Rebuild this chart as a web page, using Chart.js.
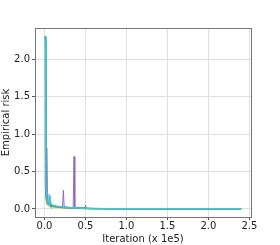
<!DOCTYPE html>
<html>
<head>
<meta charset="utf-8">
<script src="https://cdn.jsdelivr.net/npm/chart.js@4"></script>
<style>
  html, body { margin: 0; padding: 0; background: #fff; }
  canvas { display: block; }
</style>
</head>
<body>
<canvas id="chart" width="280" height="245"></canvas>
<script>
// iteration (x 1e5)
const iters = [0, 0.012, 0.0125, 0.013, 0.017, 0.02, 0.025, 0.03, 0.035, 0.04, 0.05, 0.06, 0.065, 0.07, 0.075, 0.08,
  0.1, 0.12, 0.15, 0.2, 0.22, 0.23, 0.24, 0.3, 0.35, 0.36, 0.37, 0.45, 0.49, 0.5, 0.51, 0.6, 0.8, 1.0, 1.5, 2.0, 2.4];

const riskGray = [2.30, 2.30, 1.9, 0.6, 0.25, 0.15, 0.11, 0.09, 0.08, 0.07, 0.06, 0.05, 0.05, 0.06, 0.05, 0.045,
  0.04, 0.05, 0.03, 0.025, 0.02, 0.02, 0.02, 0.018, 0.015, 0.015, 0.015, 0.012, 0.01, 0.05, 0.01, 0.006, 0.003, 0.002, 0.001, 0.001, 0.001];
const riskOlive = [2.30, 2.30, 1.9, 0.55, 0.2, 0.12, 0.09, 0.07, 0.06, 0.05, 0.04, 0.035, 0.03, 0.03, 0.03, 0.028,
  0.025, 0.02, 0.018, 0.015, 0.012, 0.012, 0.012, 0.01, 0.008, 0.008, 0.008, 0.005, 0.004, 0.004, 0.004, 0.002, 0.001, 0.001, 0.001, 0.001, 0.001];
const riskPink = [2.30, 2.30, 1.9, 0.6, 0.25, 0.16, 0.12, 0.1, 0.08, 0.07, 0.06, 0.05, 0.05, 0.045, 0.04, 0.04,
  0.035, 0.03, 0.025, 0.02, 0.018, 0.018, 0.018, 0.015, 0.012, 0.012, 0.012, 0.01, 0.008, 0.008, 0.008, 0.005, 0.003, 0.002, 0.001, 0.001, 0.001];
const riskPurple = [2.30, 2.30, 1.9, 0.65, 0.3, 0.2, 0.5, 0.82, 0.2, 0.12, 0.09, 0.07, 0.07, 0.06, 0.06, 0.05,
  0.045, 0.04, 0.035, 0.03, 0.03, 0.25, 0.03, 0.02, 0.02, 0.70, 0.02, 0.015, 0.01, 0.01, 0.01, 0.006, 0.004, 0.003, 0.002, 0.001, 0.001];
const riskTeal = [2.30, 2.30, 1.85, 0.6, 0.3, 0.2, 0.14, 0.11, 0.09, 0.08, 0.07, 0.1, 0.16, 0.08, 0.06, 0.05,
  0.04, 0.035, 0.03, 0.025, 0.02, 0.02, 0.02, 0.015, 0.012, 0.012, 0.012, 0.008, 0.006, 0.006, 0.005, 0.003, 0.002, 0.001, 0.001, 0.001, 0.001];
const riskCyan = [2.30, 2.30, 1.95, 0.75, 0.35, 0.22, 0.15, 0.12, 0.10, 0.09, 0.08, 0.12, 0.19, 0.10, 0.07, 0.06,
  0.05, 0.04, 0.035, 0.03, 0.025, 0.025, 0.02, 0.02, 0.015, 0.015, 0.015, 0.01, 0.008, 0.01, 0.008, 0.005, 0.003, 0.002, 0.001, 0.001, 0.001];

const xTicks = [0, 0.5, 1.0, 1.5, 2.0, 2.5];
const yTicks = [0, 0.5, 1.0, 1.5, 2.0];

// Chart.js paints dataset 0 on top, so the lines that show most come first
const series = [
  { data: riskCyan, color: '#3cc8d4', width: 1.5 },
  { data: riskTeal, color: '#2a9d8f', width: 1.5 },
  { data: riskPurple, color: '#9467bd', width: 1 },
  { data: riskPink, color: '#e377c2', width: 1 },
  { data: riskOlive, color: '#bcbd22', width: 1 },
  { data: riskGray, color: '#7f7f7f', width: 1 }
];

// frame around the plot area, like matplotlib spines
const frame = {
  id: 'frame',
  afterDraw(chart) {
    const { ctx, chartArea: a } = chart;
    ctx.save();
    ctx.strokeStyle = '#777';
    ctx.lineWidth = 1;
    ctx.strokeRect(Math.round(a.left) + 0.5, Math.round(a.top) + 0.5,
      Math.round(a.right - a.left), Math.round(a.bottom - a.top));
    ctx.restore();
  }
};

const font = { family: 'DejaVu Sans', size: 10 };

new Chart(document.getElementById('chart'), {
  type: 'line',
  data: {
    datasets: series.map(s => ({
      data: iters.map((x, i) => ({ x: x, y: s.data[i] })),
      borderColor: s.color,
      borderWidth: s.width,
      pointRadius: 0,
      tension: 0,
      fill: false
    }))
  },
  options: {
    responsive: false,
    animation: false,
    layout: { padding: { top: 28, right: 29, left: 0, bottom: 0 } },
    plugins: { legend: { display: false }, tooltip: { enabled: false } },
    scales: {
      x: {
        type: 'linear',
        min: -0.116,
        max: 2.52,
        afterBuildTicks: s => { s.ticks = xTicks.map(v => ({ value: v })); },
        afterFit: s => { s.height = 28; },
        ticks: { font: font, color: '#222', padding: 0, maxRotation: 0, callback: v => v.toFixed(1) },
        grid: { color: '#e0e0e0', tickColor: '#555', tickLength: 3 },
        border: { display: false },
        title: { display: true, text: 'Iteration (x 1e5)', font: font, color: '#222', padding: 0 }
      },
      y: {
        min: -0.108,
        max: 2.42,
        afterBuildTicks: s => { s.ticks = yTicks.map(v => ({ value: v })); },
        afterFit: s => { s.width = 35; },
        ticks: { font: font, color: '#222', padding: 2, callback: v => v.toFixed(1) },
        grid: { color: '#e0e0e0', tickColor: '#555', tickLength: 3 },
        border: { display: false },
        title: { display: true, text: 'Empirical risk', font: font, color: '#222', padding: 0 }
      }
    }
  },
  plugins: [frame]
});
</script>
</body>
</html>
